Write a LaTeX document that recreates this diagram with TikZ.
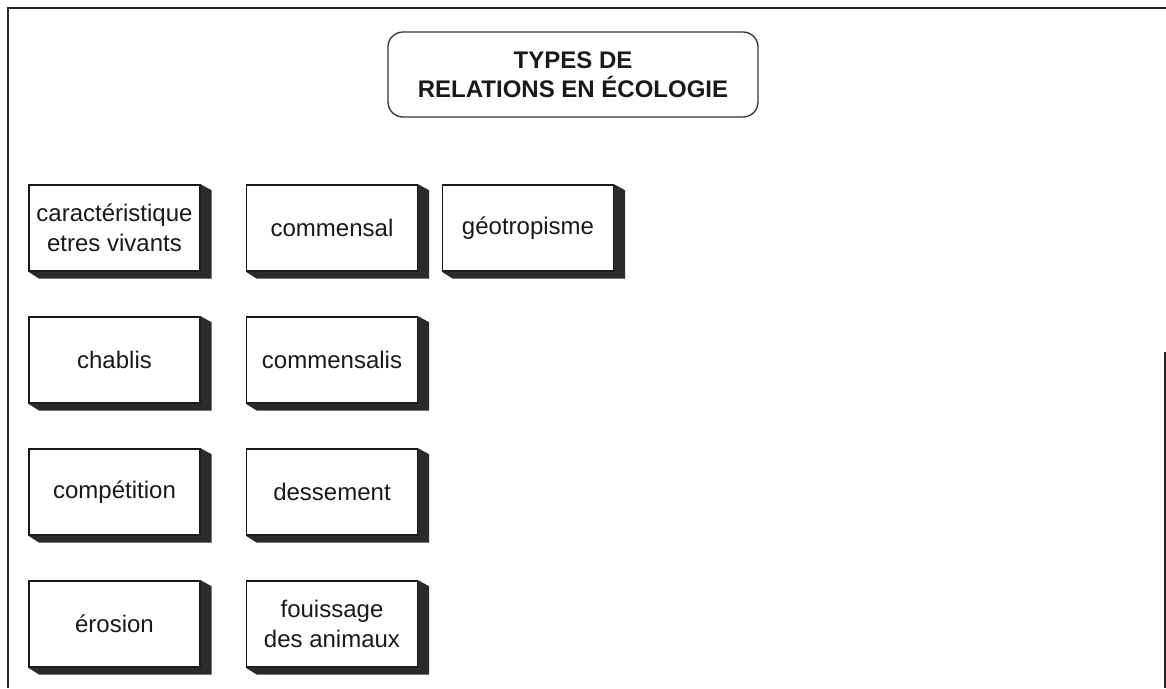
\documentclass[tikz,border=0pt]{standalone}
\usepackage{fontspec}
\setmainfont{Liberation Sans}
\usetikzlibrary{calc}
\begin{document}
\begin{tikzpicture}[x=1pt,y=-1pt,
  term/.style={draw=black!90, line width=1.4pt, fill=white, minimum width=171pt,
    minimum height=86pt, inner sep=2pt, align=center, text=black!90,
    font=\fontsize{24}{30}\selectfont},
  titlebox/.style={draw=black!80, line width=1.3pt, rounded corners=15pt, fill=white,
    minimum width=370pt, minimum height=85pt, align=center, text=black!90,
    font=\bfseries\fontsize{24}{29}\selectfont},
  depth/.style={fill=black!83},
  frame/.style={draw=black!85, line width=2pt}]
\useasboundingbox (0,0) rectangle (1166,688);

% outer frame (open on the bottom and partly on the right)
\draw[frame] (8,688) -- (8,8) -- (1166,8);
\draw[frame] (1165,352) -- (1165,688);

% heading
\node[titlebox] (title) at (573,74.5) {TYPES DE\\RELATIONS EN ÉCOLOGIE};

% term boxes
\node[term] (carac) at (114.5,228) {caractéristique\\etres vivants};
\node[term] (comm)  at (332,228)   {commensal};
\node[term] (geo)   at (528,228)   {géotropisme};
\node[term] (chab)  at (114.5,360) {chablis};
\node[term] (comms) at (332,360)   {commensalis};
\node[term] (comp)  at (114.5,492) {compétition};
\node[term] (dess)  at (332,492)   {dessement};
\node[term] (eros)  at (114.5,624) {érosion};
\node[term] (fouis) at (332,624)   {fouissage\\des animaux};

% extruded side and bottom faces of each box
\foreach \n in {carac,comm,geo,chab,comms,comp,dess,eros,fouis}{
  \fill[depth] (\n.north east) -- ++(11,6) |- ($(\n.south west)+(11,7)$)
    -- (\n.south west) -- (\n.south east) -- cycle;
}
\end{tikzpicture}
\end{document}
